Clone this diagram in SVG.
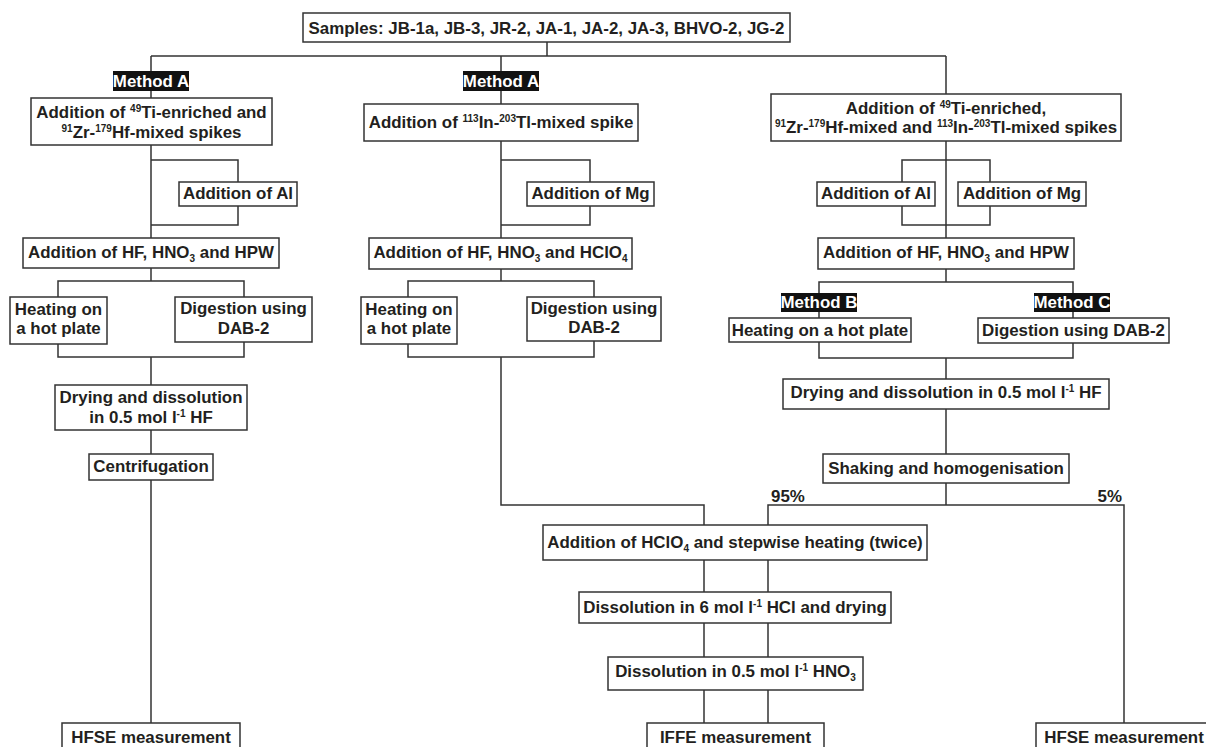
<svg xmlns="http://www.w3.org/2000/svg" width="1206" height="747" viewBox="0 0 1206 747">
<style>
.b{fill:#fff;stroke:#333;stroke-width:1.5}
.m{fill:#111}
text{font-family:"Liberation Sans",Arial,sans-serif;font-weight:bold;font-size:16.9px;fill:#231f20;text-anchor:middle}
.w{fill:#fff}
.sup{font-size:10px}
.c path{fill:none;stroke:#333;stroke-width:1.5}
.l{text-anchor:start}
.r{text-anchor:end}
</style>
<rect width="1206" height="747" fill="#fff"/>
<g class="c" id="connectors">
<path d="M547,42V56M151,56H946M151,56V98M501,56V104M946,56V94"/>
<path d="M151,145V238M151,160H238V182M238,206V225H151"/>
<path d="M151,268V281M58,297V281H244V297M58,344V357H244V342M151,357V385M151,430V454M151,480V723"/>
<path d="M501,141V238M501,160H590V182M590,206V225H501"/>
<path d="M501,269V281M408,297V281H594V297M408,344V357H594V341M501,357V505H704V525"/>
<path d="M946,141V238M902,182V160H990V182M902,206V225H990V206"/>
<path d="M946,269V282M819,318V282H1073V318M819,342V358H1073V343M946,358V379M946,409V454M946,483V505"/>
<path d="M768,525V505H1124V723"/>
<path d="M704,560V592M768,560V592M704,623V657M768,623V657M704,690V723M768,690V723"/>
</g>
<g id="samples"><rect class="b" x="303" y="13" width="487" height="29"/><text x="546.5" y="34">Samples: JB-1a, JB-3, JR-2, JA-1, JA-2, JA-3, BHVO-2, JG-2</text></g>
<g id="methodA1"><rect class="m" x="113" y="71" width="76" height="20"/><text class="w" x="151" y="87">Method A</text></g>
<g id="methodA2"><rect class="m" x="463" y="71" width="76" height="20"/><text class="w" x="501" y="87">Method A</text></g>
<g id="spikeL"><rect class="b" x="31" y="98" width="241" height="47"/>
<text x="151.5" y="118">Addition of <tspan class="sup" dy="-6">49</tspan><tspan dy="6">Ti-enriched and</tspan></text>
<text x="151.5" y="138"><tspan class="sup" dy="-6">91</tspan><tspan dy="6">Zr-</tspan><tspan class="sup" dy="-6">179</tspan><tspan dy="6">Hf-mixed spikes</tspan></text></g>
<g id="alL"><rect class="b" x="179" y="182" width="118" height="24"/><text x="238" y="199">Addition of Al</text></g>
<g id="hfL"><rect class="b" x="23" y="238" width="256" height="30"/><text x="151" y="258">Addition of HF, HNO<tspan class="sup" dy="4">3</tspan><tspan dy="-4"> and HPW</tspan></text></g>
<g id="heatL"><rect class="b" x="10" y="297" width="97" height="47"/><text x="58.5" y="315">Heating on</text><text x="58.5" y="334">a hot plate</text></g>
<g id="digL"><rect class="b" x="175" y="297" width="137" height="45"/><text x="243.5" y="314">Digestion using</text><text x="243.5" y="334">DAB-2</text></g>
<g id="dryL"><rect class="b" x="55" y="385" width="192" height="45"/><text x="151" y="403">Drying and dissolution</text><text x="151" y="423">in 0.5 mol l<tspan class="sup" dy="-6">-1</tspan><tspan dy="6"> HF</tspan></text></g>
<g id="centri"><rect class="b" x="89" y="454" width="124" height="26"/><text x="151" y="472">Centrifugation</text></g>
<g id="hfseL"><rect class="b" x="62" y="723" width="178" height="30"/><text x="151" y="743">HFSE measurement</text></g>
<g id="spikeM"><rect class="b" x="364" y="104" width="274" height="37"/><text x="501" y="128">Addition of <tspan class="sup" dy="-6">113</tspan><tspan dy="6">In-</tspan><tspan class="sup" dy="-6">203</tspan><tspan dy="6">Tl-mixed spike</tspan></text></g>
<g id="mgM"><rect class="b" x="527" y="182" width="127" height="24"/><text x="590.5" y="199">Addition of Mg</text></g>
<g id="hfM"><rect class="b" x="369" y="238" width="263" height="31"/><text x="500.5" y="258">Addition of HF, HNO<tspan class="sup" dy="4">3</tspan><tspan dy="-4"> and HClO</tspan><tspan class="sup" dy="4">4</tspan></text></g>
<g id="heatM"><rect class="b" x="361" y="297" width="96" height="47"/><text x="409" y="315">Heating on</text><text x="409" y="334">a hot plate</text></g>
<g id="digM"><rect class="b" x="527" y="297" width="134" height="44"/><text x="594" y="314">Digestion using</text><text x="594" y="333">DAB-2</text></g>
<g id="spikeR"><rect class="b" x="771" y="94" width="350" height="47"/>
<text x="946" y="114">Addition of <tspan class="sup" dy="-6">49</tspan><tspan dy="6">Ti-enriched,</tspan></text>
<text x="946" y="133"><tspan class="sup" dy="-6">91</tspan><tspan dy="6">Zr-</tspan><tspan class="sup" dy="-6">179</tspan><tspan dy="6">Hf-mixed and </tspan><tspan class="sup" dy="-6">113</tspan><tspan dy="6">In-</tspan><tspan class="sup" dy="-6">203</tspan><tspan dy="6">Tl-mixed spikes</tspan></text></g>
<g id="alR"><rect class="b" x="817" y="182" width="118" height="24"/><text x="876" y="199">Addition of Al</text></g>
<g id="mgR"><rect class="b" x="958" y="182" width="128" height="24"/><text x="1022" y="199">Addition of Mg</text></g>
<g id="hfR"><rect class="b" x="818" y="238" width="256" height="31"/><text x="946" y="258">Addition of HF, HNO<tspan class="sup" dy="4">3</tspan><tspan dy="-4"> and HPW</tspan></text></g>
<g id="methodB"><rect class="m" x="781" y="293" width="76" height="19"/><text class="w" x="819" y="308">Method B</text></g>
<g id="methodC"><rect class="m" x="1034" y="293" width="76" height="19"/><text class="w" x="1072" y="308">Method C</text></g>
<g id="heatR"><rect class="b" x="729" y="318" width="182" height="24"/><text x="820" y="336">Heating on a hot plate</text></g>
<g id="digR"><rect class="b" x="978" y="318" width="191" height="25"/><text x="1073.5" y="336">Digestion using DAB-2</text></g>
<g id="dryR"><rect class="b" x="783" y="379" width="326" height="30"/><text x="946" y="398">Drying and dissolution in 0.5 mol l<tspan class="sup" dy="-6">-1</tspan><tspan dy="6"> HF</tspan></text></g>
<g id="shake"><rect class="b" x="823" y="454" width="246" height="29"/><text x="946" y="474">Shaking and homogenisation</text></g>
<g id="pct"><text class="l" x="771" y="502">95%</text><text class="r" x="1122" y="502">5%</text></g>
<g id="hclo4"><rect class="b" x="543" y="525" width="384" height="35"/><text x="735" y="548">Addition of HClO<tspan class="sup" dy="4">4</tspan><tspan dy="-4"> and stepwise heating (twice)</tspan></text></g>
<g id="hcl"><rect class="b" x="579" y="592" width="312" height="31"/><text x="735" y="613">Dissolution in 6 mol l<tspan class="sup" dy="-6">-1</tspan><tspan dy="6"> HCl and drying</tspan></text></g>
<g id="hno3"><rect class="b" x="608" y="657" width="255" height="33"/><text x="735.5" y="677">Dissolution in 0.5 mol l<tspan class="sup" dy="-6">-1</tspan><tspan dy="6"> HNO</tspan><tspan class="sup" dy="4">3</tspan></text></g>
<g id="iffe"><rect class="b" x="647" y="723" width="177" height="30"/><text x="735.5" y="743">IFFE measurement</text></g>
<g id="hfseR"><rect class="b" x="1036" y="723" width="176" height="30"/><text x="1124" y="743">HFSE measurement</text></g>
</svg>
